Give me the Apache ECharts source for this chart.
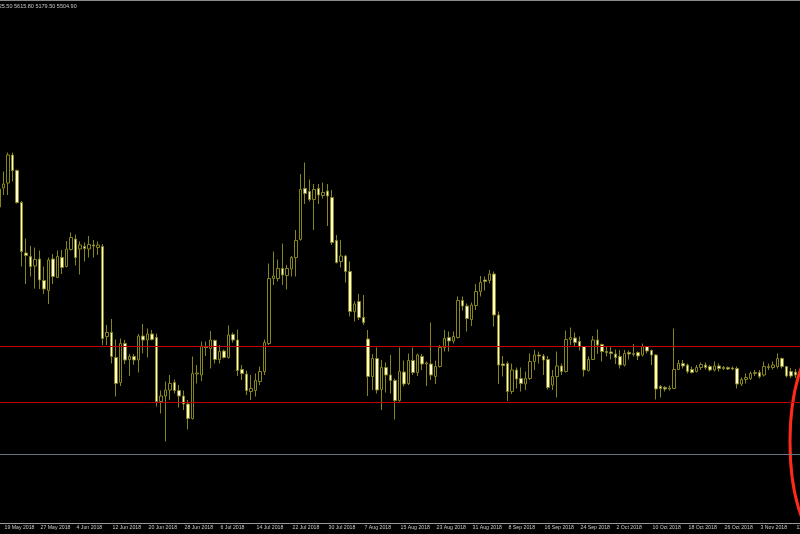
<!DOCTYPE html>
<html>
<head>
<meta charset="utf-8">
<script src="https://cdn.jsdelivr.net/npm/echarts@6/dist/echarts.min.js"></script>
<style>html,body{margin:0;padding:0;background:#000;}#c{width:800px;height:534px;}</style>
</head>
<body>
<div id="c"></div>
<script>
// Daily candles, 18 May 2018 .. 11 Nov 2018
var startDate = [2018, 4, 18];
var dayCount = 179;
var openV = [
8060,8250,8300,8580,8425,8105,7600,7565,7470,7540,
7325,7225,7540,7355,7555,7465,7635,7740,7640,7665,
7640,7680,7655,7665,6765,6805,6555,6305,6695,6535,
6565,6530,6770,6730,6790,6755,6115,6170,6230,6305,
6225,6170,6090,5945,6390,6380,6665,6645,6725,6535,
6620,6555,6785,6730,6435,6390,6215,6225,6315,6415,
6695,7345,7345,7445,7375,7440,7555,7735,8245,8215,
8135,8245,8175,8220,8155,7725,7515,7570,7415,7015,
7115,6955,6740,6365,6545,6235,6455,6380,6325,6125,
6410,6295,6525,6405,6565,6490,6490,6365,6465,6655,
6755,6720,6755,7125,7070,6935,7075,7215,7330,7325,
7390,6980,6490,6495,6215,6430,6345,6290,6345,6515,
6580,6570,6535,6280,6365,6470,6415,6735,6750,6715,
6665,6425,6535,6730,6685,6615,6610,6590,6565,6480,
6605,6585,6605,6580,6665,6625,6580,6265,6255,6240,
6245,6435,6495,6480,6435,6415,6455,6480,6465,6430,
6470,6455,6455,6450,6445,6290,6335,6345,6395,6405,
6380,6455,6455,6465,6545,6465,6415,6410];
var closeV = [
8240,8290,8580,8425,8105,7615,7575,7465,7535,7330,
7240,7530,7365,7565,7455,7640,7755,7555,7680,7645,
7685,7670,7680,6745,6805,6565,6295,6695,6530,6565,
6530,6770,6730,6790,6735,6115,6170,6230,6295,6225,
6170,6090,5945,6395,6400,6670,6655,6730,6535,6615,
6555,6780,6730,6425,6395,6225,6245,6325,6415,6705,
7345,7370,7445,7380,7445,7555,7725,8235,8195,8135,
8235,8180,8205,8170,7705,7505,7570,7415,7015,7090,
6955,6905,6365,6545,6230,6455,6380,6325,6125,6415,
6290,6525,6405,6580,6490,6500,6380,6465,6655,6745,
6720,6765,7125,7070,6945,7080,7215,7305,7315,7390,
6980,6480,6475,6215,6430,6340,6295,6345,6515,6580,
6570,6530,6255,6365,6470,6415,6735,6755,6705,6665,
6430,6535,6730,6680,6615,6605,6595,6555,6480,6595,
6590,6595,6570,6665,6620,6580,6240,6245,6240,6250,
6435,6495,6470,6415,6405,6455,6485,6455,6430,6470,
6445,6445,6440,6440,6290,6335,6355,6395,6405,6365,
6465,6465,6480,6545,6465,6370,6370,6380];
var lowV = [
7965,8180,8180,8315,8095,7465,7290,7365,7245,7240,
7190,7090,7290,7350,7390,7455,7625,7475,7385,7515,
7555,7555,7580,6680,6680,6495,6165,6270,6490,6370,
6480,6405,6595,6555,6725,6065,5995,5715,6130,6195,
6055,6030,5835,5935,6295,6320,6570,6445,6495,6495,
6545,6545,6705,6370,6330,6180,6130,6165,6280,6380,
6680,7280,7315,7280,7235,7365,7365,7725,8090,8115,
7830,8090,8145,7870,7680,7495,7455,7305,6965,6915,
6930,6880,6170,6230,6195,6030,6205,6195,5935,6115,
6265,6280,6380,6370,6430,6270,6330,6290,6455,6615,
6615,6695,6745,7025,6815,6870,7030,7165,7225,7295,
6865,6290,6365,6120,6190,6245,6215,6230,6330,6430,
6495,6380,6235,6230,6155,6380,6405,6680,6665,6625,
6365,6415,6530,6590,6515,6565,6535,6490,6445,6465,
6535,6565,6530,6565,6595,6480,6135,6155,6215,6225,
6240,6430,6445,6395,6395,6405,6430,6435,6415,6415,
6415,6430,6430,6430,6245,6270,6295,6330,6370,6345,
6365,6430,6435,6445,6445,6355,6350,6350];
var highV = [
8415,8415,8605,8605,8435,8120,7745,7670,7655,7625,
7465,7555,7590,7625,7630,7720,7805,7785,7715,7705,
7770,7730,7715,7690,6880,6940,6735,6745,6730,6590,
6590,6790,6890,6845,6830,6795,6225,6315,6380,6335,
6280,6225,6130,6565,6480,6715,6715,6820,6735,6680,
6635,6875,6805,6835,6480,6425,6380,6395,6465,6735,
7495,7615,7535,7695,7480,7570,7830,8390,8505,8335,
8290,8290,8305,8290,8230,7780,7730,7580,7515,7115,
7190,7180,6830,6590,6655,6530,6505,6580,6345,6655,
6525,6595,6655,6595,6590,6515,6905,6525,6680,6830,
6815,6815,7165,7165,7095,7105,7290,7370,7365,7430,
7415,7015,6570,6515,6495,6455,6455,6415,6595,6630,
6615,6590,6570,6430,6615,6495,6825,6855,6805,6765,
6670,6565,6770,6835,6695,6670,6670,6635,6630,6630,
6625,6690,6615,6695,6670,6635,6590,6280,6270,6275,
6845,6530,6530,6495,6465,6480,6505,6505,6480,6515,
6495,6470,6465,6465,6465,6355,6395,6415,6430,6430,
6515,6495,6515,6595,6555,6470,6450,6440];
var levelsRed = [6665, 6108];
var levelGray = [5585];
var headerText = '5425.50 5615.80 5179.50 5504.90';

var MONTHS = ['Jan','Feb','Mar','Apr','May','Jun','Jul','Aug','Sep','Oct','Nov','Dec'];
var categories = [];
for (var k = 0; k < dayCount; k++) {
  var d = new Date(Date.UTC(startDate[0], startDate[1], startDate[2] + k));
  categories.push(d.getUTCDate() + ' ' + MONTHS[d.getUTCMonth()] + ' ' + d.getUTCFullYear());
}
var candles = openV.map(function (o, i) { return [o, closeV[i], lowV[i], highV[i]]; });

var showIdx = function (idx) { return (idx - 1) % 8 === 0; };
var olive = '#85851a';
var chart = echarts.init(document.getElementById('c'), null, {renderer: 'canvas'});
chart.setOption({
  backgroundColor: '#000000',
  animation: false,
  grid: {left: -3.25, top: 0, width: 805.5, height: 523, containLabel: false, outerBoundsMode: 'none'},
  xAxis: {
    type: 'category', data: categories, boundaryGap: true,
    axisLine: {lineStyle: {color: '#9a9a9a', width: 1}},
    axisTick: {alignWithLabel: true, interval: showIdx, length: 3, lineStyle: {color: '#9a9a9a'}},
    axisLabel: {interval: showIdx, fontSize: 5.2, color: '#c8c8c8', align: 'left', margin: 2,
      hideOverlap: false, showMinLabel: null, showMaxLabel: null,
      fontFamily: 'Liberation Sans', padding: [0, 0, 0, 1]},
    splitLine: {show: false}
  },
  yAxis: {type: 'value', min: 4900, max: 10130, show: false, splitLine: {show: false}},
  series: [{
    type: 'candlestick', data: candles, barWidth: 3,
    itemStyle: {color: '#000000', color0: '#fffbd8', borderColor: olive, borderColor0: olive, borderWidth: 1},
    markLine: {
      silent: true, symbol: ['none', 'none'], label: {show: false},
      data: [
        {yAxis: levelsRed[0], lineStyle: {color: '#c40000', width: 1, type: 'solid'}},
        {yAxis: levelsRed[1], lineStyle: {color: '#c00000', width: 1, type: 'solid'}},
        {yAxis: levelGray[0], lineStyle: {color: '#6a7384', width: 1, type: 'solid'}}
      ]
    }
  }],
  graphic: [
    {type: 'rect', shape: {x: 0, y: 0, width: 800, height: 1}, style: {fill: '#8a8a8a'}},
    {type: 'text', x: -7.4, y: 3, style: {text: headerText, fill: '#c8c8c8', font: '5.5px "Liberation Sans"'}},
    {type: 'ellipse', shape: {cx: 830, cy: 442, rx: 40, ry: 107},
      style: {fill: 'none', stroke: '#ff2a1a', lineWidth: 3}}
  ]
});
</script>
</body>
</html>
